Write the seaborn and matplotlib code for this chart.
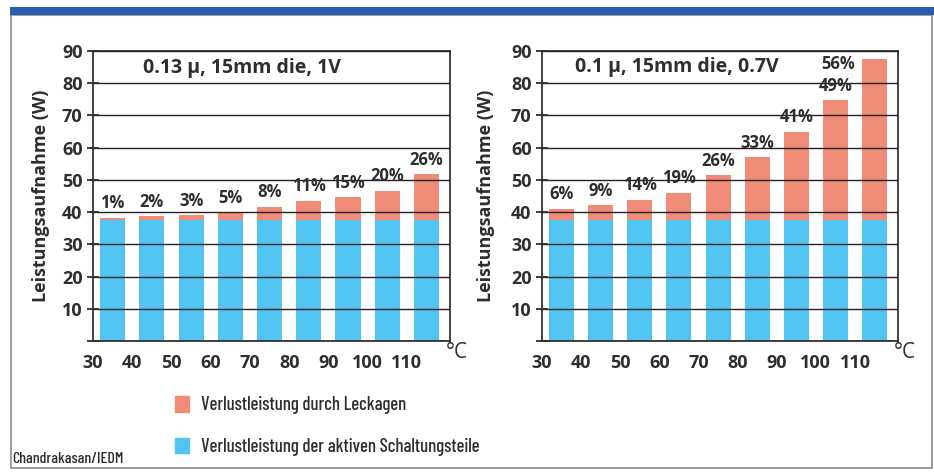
import numpy as np
import pandas as pd
import matplotlib.pyplot as plt
import seaborn as sns
from matplotlib import font_manager
from matplotlib.patches import Patch, Rectangle

# Temperaturbereiche (Beginn je Balken) und Achsenbeschriftung
temp_start = [30, 40, 50, 60, 70, 80, 90, 100, 110]
x_tick_labels = ["30", "40", "50", "60", "70", "80", "90", "100", "110"]
y_ticks = [0, 10, 20, 30, 40, 50, 60, 70, 80, 90]
y_tick_labels = ["", "10", "20", "30", "40", "50", "60", "70", "80", "90"]

# links: 0.13 µ, 1V
active_left = [37.4, 37.4, 37.4, 37.4, 37.4, 37.4, 37.4, 37.4, 37.4]
total_left = [38.2, 38.7, 39.0, 39.9, 41.6, 43.6, 44.6, 46.7, 51.7]
pct_left = ["1%", "2%", "3%", "5%", "8%", "11%", "15%", "20%", "26%"]

# rechts: 0.1 µ, 0.7V
active_right = [37.4, 37.4, 37.4, 37.4, 37.4, 37.4, 37.4, 37.4, 37.4]
total_right = [41.0, 42.1, 43.9, 46.0, 51.5, 57.0, 64.9, 74.7, 87.6]
pct_right = ["6%", "9%", "14%", "19%", "26%", "33%", "41%", "49%", "56%"]

titel_links = "0.13 \u03bc, 15mm die, 1V"
titel_rechts = "0.1 \u03bc, 15mm die, 0.7V"
leg_leck = "Verlustleistung durch Leckagen"
leg_aktiv = "Verlustleistung der aktiven Schaltungsteile"
quelle = "Chandrakasan/IEDM"

ROT = "#f08b78"
BLAU = "#52c4f2"
TEXT = "#2e2e2e"

sns.set_style("white")
plt.rcParams['font.family'] = ['Open Sans', 'DejaVu Sans']

# schmale Schrift für Legende und Quelle, falls vorhanden
installiert = {f.name for f in font_manager.fontManager.ttflist}
schmal = 'Open Sans'
for name in ['Barlow Condensed', 'Asap Condensed', 'Archivo Narrow', 'Liberation Sans Narrow']:
    if name in installiert:
        schmal = name
        break


def zeichne_panel(ax, totals, active, pct):
    df = pd.DataFrame({"temp": np.array(temp_start) + 5, "total": totals, "active": active})
    sns.barplot(data=df, x="temp", y="total", native_scale=True, color=ROT, saturation=1,
                width=0.64, linewidth=0, errorbar=None, ax=ax)
    sns.barplot(data=df, x="temp", y="active", native_scale=True, color=BLAU, saturation=1,
                width=0.64, linewidth=0, errorbar=None, ax=ax)

    ax.set_xlim(30, 121)
    ax.set_ylim(0, 90)
    ax.set_xticks(temp_start)
    ax.set_xticklabels(x_tick_labels)
    ax.set_yticks(y_ticks)
    ax.set_yticklabels(y_tick_labels)
    ax.set_xlabel("")
    ax.set_ylabel("Leistungsaufnahme (W)", fontsize=13, fontweight='bold', color=TEXT)

    ax.yaxis.grid(True, color="#222222", linewidth=1)
    ax.xaxis.grid(False)
    ax.set_axisbelow(False)
    for s in ax.spines.values():
        s.set_visible(True)
        s.set_color("#333333")
        s.set_linewidth(1.3)

    ax.tick_params(axis='y', direction='inout', length=9, width=1.3, labelsize=13,
                   pad=3, colors=TEXT, left=True)
    ax.tick_params(axis='x', direction='inout', length=0, labelsize=13,
                   pad=9, colors=TEXT, bottom=True)
    for lab in ax.get_xticklabels() + ax.get_yticklabels():
        lab.set_fontweight('bold')

    for x, t, p in zip(df["temp"], totals, pct):
        if t + 6 > 90:
            # kein Platz über dem Balken -> links daneben
            ax.annotate(p, (x, t), xytext=(-26, -4), textcoords='offset points',
                        ha='center', va='center', fontsize=12, fontweight='bold', color=TEXT)
        else:
            ax.annotate(p, (x, t), xytext=(0, 4), textcoords='offset points',
                        ha='center', va='bottom', fontsize=12, fontweight='bold', color=TEXT)

    ax.text(1.02, -0.04, "\u00b0C", transform=ax.transAxes, ha='center', va='center',
            fontsize=15, color=TEXT)


fig = plt.figure(figsize=(9.34, 4.74), dpi=100)
ax1 = fig.add_axes([93 / 934, 133 / 474, 357 / 934, 290 / 474])
ax2 = fig.add_axes([542 / 934, 133 / 474, 356 / 934, 290 / 474])

zeichne_panel(ax1, total_left, active_left, pct_left)
zeichne_panel(ax2, total_right, active_right, pct_right)

ax1.text(0.14, 0.94, titel_links, transform=ax1.transAxes, ha='left', va='center',
         fontsize=14, fontweight='bold', color=TEXT)
ax2.text(0.093, 0.945, titel_rechts, transform=ax2.transAxes, ha='left', va='center',
         fontsize=14, fontweight='bold', color=TEXT)
ax1.yaxis.set_label_coords(-0.12, 0.5)
ax2.yaxis.set_label_coords(-0.132, 0.5)

# Rahmen und blauer Streifen oben
fig.patches.append(Rectangle((11 / 934, 6 / 474), 921 / 934, 453 / 474, transform=fig.transFigure,
                             fill=False, edgecolor="#8a8a95", linewidth=1.2))
fig.patches.append(Rectangle((10 / 934, 459 / 474), 924 / 934, 8 / 474, transform=fig.transFigure,
                             facecolor="#2b5cb0", edgecolor="none"))

fig.legend(handles=[Patch(color=ROT, label=leg_leck), Patch(color=BLAU, label=leg_aktiv)],
           loc='upper left', bbox_to_anchor=(175 / 934, 1 - 396 / 474), frameon=False,
           prop={'family': schmal, 'size': 13.5, 'weight': 'medium'}, labelcolor=TEXT,
           handlelength=0.75, handleheight=0.9, handletextpad=0.65, labelspacing=1.25,
           borderpad=0, borderaxespad=0)

fig.text(12 / 934, 1 - 459 / 474, quelle, ha='left', va='center', fontsize=11.5,
         family=schmal, weight='medium', color=TEXT)

fig.savefig("out.png", dpi=100)
